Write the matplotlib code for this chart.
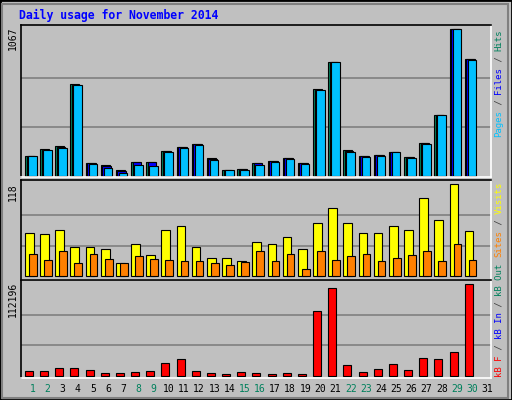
import numpy as np
import matplotlib.pyplot as plt
from matplotlib.patches import Rectangle

days = np.arange(1, 31)
hits = [145, 196, 218, 669, 95, 80, 44, 102, 102, 182, 211, 233, 131, 44, 51,
        95, 109, 131, 95, 633, 829, 189, 145, 153, 175, 138, 240, 444, 1067, 851]
files = [145, 192, 212, 665, 93, 76, 40, 100, 100, 180, 209, 231, 127, 44, 51,
         93, 107, 129, 93, 629, 829, 185, 143, 151, 175, 136, 238, 444, 1067, 849]
pages = [145, 190, 204, 662, 87, 58, 22, 80, 73, 175, 204, 226, 117, 44, 44,
         80, 102, 124, 87, 626, 829, 175, 138, 145, 175, 131, 233, 444, 1067, 844]
visits = [55, 54, 60, 37, 37, 35, 17, 41, 27, 59, 64, 37, 23, 23, 19,
          44, 42, 51, 35, 69, 87, 69, 55, 55, 65, 59, 100, 72, 118, 58]
sites = [28, 21, 33, 17, 28, 22, 17, 26, 22, 21, 19, 19, 17, 14, 18,
         33, 19, 28, 10, 32, 21, 26, 28, 19, 23, 27, 32, 19, 41, 21]
kbytes = [5300, 5300, 9000, 9000, 6550, 2900, 2900, 4100, 5300, 15150, 20070, 5300, 2900, 1640, 4100,
          2900, 1640, 2900, 1640, 79030, 107290, 12700, 4100, 7780, 13920, 6550, 21300, 20070, 28670, 112196]
weekend = [1, 2, 8, 9, 15, 16, 22, 23, 29, 30]

W, H = 512, 400
BG = "#C0C0C0"
GREEN, BLUE, CYAN = "#00805C", "#0000FF", "#00C0FF"
YEL, ORA, RED = "#FFFF00", "#FF8000", "#FF0000"

fig = plt.figure(figsize=(W / 100, H / 100), dpi=100, facecolor=BG)
fig.patches.append(Rectangle((0, 0), 1, 1, transform=fig.transFigure, fill=False,
                             edgecolor="black", lw=2))
fig.patches.append(Rectangle((2 / W, 2 / H), 1 - 6 / W, 1 - 6 / H, transform=fig.transFigure,
                             fill=False, edgecolor="#808080", lw=1.5))

X0, X1 = 21, 491


def panel(top, bottom, baseline, maxpx, vmax):
    ax = fig.add_axes([X0 / W, (H - bottom) / H, (X1 - X0) / W, (bottom - top) / H])
    ax.set_facecolor(BG)
    u = vmax / (baseline - maxpx)
    ax.set_ylim(-(bottom - baseline) * u, (baseline - top) * u)
    ax.set_xlim(0, 31)
    for g in (vmax / 3, 2 * vmax / 3):
        ax.axhline(g, color="#808080", lw=1.2, zorder=0)
    ax.set_xticks([])
    ax.set_yticks([])
    ax.spines["left"].set_color("black")
    ax.spines["top"].set_color("black")
    ax.spines["right"].set_color("white")
    ax.spines["bottom"].set_color("white")
    for s in ax.spines.values():
        s.set_linewidth(1.2)
    return ax


slot = (X1 - X0) / 31
d = days - 1

ax1 = panel(24.7, 177, 176, 29.3, 1067)
ax1.bar(d + 4 / slot, hits, width=9 / slot, align="edge", color=GREEN, edgecolor="black", lw=0.8)
ax1.bar(d + 5.5 / slot, files, width=8.5 / slot, align="edge", color=BLUE, edgecolor="black", lw=0.8)
ax1.bar(d + 7 / slot, pages, width=8.5 / slot, align="edge", color=CYAN, edgecolor="black", lw=0.8)

ax2 = panel(180, 280, 276.3, 184.3, 118)
ax2.bar(d + 4 / slot, visits, width=8.7 / slot, align="edge", color=YEL, edgecolor="black", lw=0.8)
ax2.bar(d + 8 / slot, sites, width=7.7 / slot, align="edge", color=ORA, edgecolor="black", lw=0.8)

ax3 = panel(280, 377.7, 375.7, 284.3, 112196)
ax3.bar(d + 4 / slot, kbytes, width=8 / slot, align="edge", color=RED, edgecolor="black", lw=0.8)

fig.text(19 / W, 1 - 15 / H, "Daily usage for November 2014", color=BLUE, fontsize=8.3,
         fontweight="bold", family="DejaVu Sans Mono", va="center")

for ytop, lab in ((27, "1067"), (183, "118"), (282, "112196")):
    fig.text(13 / W, 1 - ytop / H, lab, rotation=90, fontsize=7, family="DejaVu Sans Mono",
             ha="center", va="top")

for i in range(31):
    day = i + 1
    fig.text((X0 + (i + 0.75) * slot) / W, 1 - 389 / H, str(day), fontsize=7,
             family="DejaVu Sans Mono", ha="center", va="center",
             color=GREEN if day in weekend else "black")

CH = 5.4


def vlabel(bottom_px, parts):
    y = bottom_px
    for txt, col in parts:
        fig.text(499 / W, 1 - y / H, txt, rotation=90, fontsize=6.5, family="DejaVu Sans Mono",
                 ha="center", va="bottom", color=col)
        y -= CH * len(txt)


vlabel(137, [("Pages", CYAN), (" / ", "#404040"), ("Files", BLUE), (" / ", "#404040"), ("Hits", GREEN)])
vlabel(257, [("Sites", ORA), (" / ", "#404040"), ("Visits", YEL)])
vlabel(377, [("kB F", RED), (" / ", "#404040"), ("kB In", BLUE), (" / ", "#404040"), ("kB Out", GREEN)])

fig.savefig("out.png", dpi=100, facecolor=BG)
